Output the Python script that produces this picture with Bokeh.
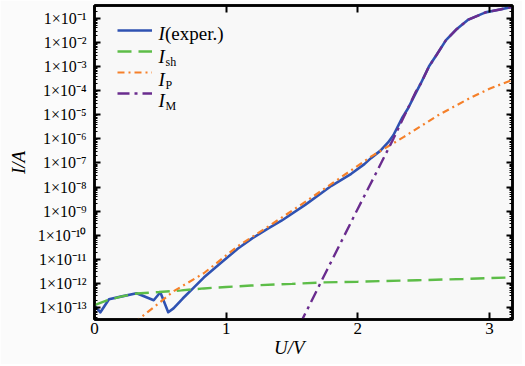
import math
from bokeh.plotting import figure
from bokeh.models import (Range1d, FixedTicker, LogAxis, LinearAxis, CustomJSTickFormatter,
                          Legend, LegendItem, Label)
from bokeh.embed import file_html
from bokeh.resources import INLINE

# ---------------- data (currents as log10(I/A)) ----------------
exp_u = [0.00, 0.045, 0.11, 0.20, 0.32, 0.45, 0.50, 0.56, 0.60, 0.67, 0.75, 0.83, 0.95, 1.09,
         1.20, 1.32, 1.42, 1.60, 1.80, 1.95, 2.05, 2.10, 2.17, 2.23, 2.27, 2.34, 2.38, 2.44,
         2.48, 2.54, 2.60, 2.67, 2.75, 2.84, 2.97, 3.08, 3.175]
exp_log_i = [-12.92, -13.20, -12.66, -12.55, -12.41, -12.70, -12.37, -13.20, -13.04, -12.63,
             -12.20, -11.76, -11.20, -10.55, -10.12, -9.72, -9.40, -8.74, -7.95, -7.45, -7.05,
             -6.80, -6.50, -6.15, -5.85, -5.10, -4.75, -4.10, -3.68, -3.00, -2.50, -1.90,
             -1.45, -1.05, -0.75, -0.63, -0.52]

sh_u = [0.00, 0.10, 0.20, 0.32, 0.49, 0.66, 0.83, 1.00, 1.19, 1.50, 1.73, 2.00, 2.45, 2.80, 3.175]
sh_log_i = [-12.90, -12.70, -12.55, -12.42, -12.36, -12.29, -12.21, -12.15, -12.09, -12.02,
            -11.96, -11.93, -11.87, -11.82, -11.75]

p_u = [0.30, 0.60, 0.83, 1.09, 1.32, 1.60, 1.85, 2.10, 2.35, 2.61, 2.86, 3.00, 3.175]
p_log_i = [-13.65, -12.33, -11.58, -10.45, -9.64, -8.62, -7.68, -6.74, -5.92, -5.02, -4.28,
           -3.92, -3.55]

m_u = [1.56, 1.77, 1.89, 2.00, 2.15, 2.27, 2.35, 2.44, 2.48, 2.54, 2.60, 2.67, 2.75, 2.84,
       2.97, 3.08, 3.175]
m_log_i = [-13.70, -11.40, -10.10, -8.90, -7.30, -6.00, -5.08, -4.05, -3.70, -3.00, -2.50,
           -1.90, -1.45, -1.05, -0.75, -0.63, -0.52]

x_ticks = [0, 1, 2, 3]
x_tick_labels = ["0", "1", "2", "3"]
y_exps = list(range(-13, 0))
y_tick_labels = ["1×10⁻¹³", "1×10⁻¹²", "1×10⁻¹¹", "1×10⁻¹⁰", "1×10⁻⁹", "1×10⁻⁸", "1×10⁻⁷",
                 "1×10⁻⁶", "1×10⁻⁵", "1×10⁻⁴", "1×10⁻³", "1×10⁻²", "1×10⁻¹"]

series_colors = {"exp": "#2f52b2", "sh": "#5dbd48", "p": "#f5802a", "m": "#6a2c8e"}

# ---------------- figure ----------------
FONT = "Liberation Serif"
X_MAX = 3.175
Y_TOP_LOG, Y_BOT_LOG = -0.464, -13.50
W, H = 522, 364
BL, BR, BT, BB = 94, 10, 5, 45
FRAME_W, FRAME_H = W - BL - BR, H - BT - BB

p = figure(width=W, height=H, y_axis_type="log",
           x_range=Range1d(0, X_MAX), y_range=Range1d(10 ** Y_BOT_LOG, 10 ** Y_TOP_LOG),
           output_backend="svg", toolbar_location=None,
           min_border_left=BL, min_border_right=BR, min_border_top=BT, min_border_bottom=BB)
p.background_fill_color = "#f8f8f8"
p.border_fill_color = "#fbfbfb"
p.xgrid.visible = False
p.ygrid.visible = False
p.outline_line_color = "black"
p.outline_line_width = 2.5

def pw(v):
    return [10 ** a for a in v]

r_exp = p.line(exp_u, pw(exp_log_i), line_color=series_colors["exp"], line_width=2.6,
               line_join="round")
r_sh = p.line(sh_u, pw(sh_log_i), line_color=series_colors["sh"], line_width=2.4,
              line_dash="14 7")
r_p = p.line(p_u, pw(p_log_i), line_color=series_colors["p"], line_width=2.2,
             line_dash="7 4 2 4")
r_m = p.line(m_u, pw(m_log_i), line_color=series_colors["m"], line_width=2.4,
             line_dash="12 5 3 5")

# ---------------- axes ----------------
y_major = [10.0 ** e for e in y_exps]
y_minor = [m * 10.0 ** e for e in range(-14, 0) for m in range(2, 10)]

x_fmt = CustomJSTickFormatter(args=dict(xvals=x_ticks, xlabs=x_tick_labels), code="""
const i = xvals.indexOf(Math.round(tick));
return i < 0 ? '' : xlabs[i];
""")
y_fmt = CustomJSTickFormatter(args=dict(yexps=y_exps, ylabs=y_tick_labels), code="""
const e = Math.round(Math.log10(tick));
const i = yexps.indexOf(e);
return i < 0 ? '' : ylabs[i];
""")
blank_fmt = CustomJSTickFormatter(code="return '';")

xa = p.xaxis[0]
xa.ticker = FixedTicker(ticks=x_ticks)
xa.formatter = x_fmt
ya = p.yaxis[0]
ya.ticker = FixedTicker(ticks=y_major, minor_ticks=y_minor)
ya.formatter = y_fmt

for ax in (xa, ya):
    ax.axis_line_width = 2.5
    ax.axis_line_color = "black"
    ax.major_tick_out = 0
    ax.minor_tick_out = 0
    ax.major_tick_line_width = 2
    ax.minor_tick_line_width = 1.2
    ax.major_label_text_font = FONT
    ax.major_label_text_font_size = "16px"
    ax.major_label_text_color = "black"
    ax.axis_label_text_font = FONT
    ax.axis_label_text_font_size = "19px"
    ax.axis_label_text_font_style = "italic"
    ax.axis_label_text_color = "black"
xa.major_label_text_font_size = "17px"
xa.major_tick_in = 7
xa.minor_tick_in = 0
xa.major_label_standoff = 3
xa.axis_label = "U/V\u2003\u2002"
xa.axis_label_standoff = 0
ya.major_tick_in = 6
ya.minor_tick_in = 3
ya.major_label_standoff = 8
ya.axis_label = "I/A"
ya.axis_label_standoff = 6

top_ax = LinearAxis(ticker=FixedTicker(ticks=x_ticks), formatter=blank_fmt,
                    major_label_standoff=0, major_tick_in=7, major_tick_out=0,
                    minor_tick_in=0, minor_tick_out=0, axis_line_width=2.5,
                    major_tick_line_width=2)
right_ax = LogAxis(ticker=FixedTicker(ticks=y_major, minor_ticks=y_minor),
                   formatter=blank_fmt, major_label_standoff=0,
                   major_tick_in=6, major_tick_out=0, minor_tick_in=3, minor_tick_out=0,
                   axis_line_width=2.5, major_tick_line_width=2, minor_tick_line_width=1.2)
p.add_layout(top_ax, "above")
p.add_layout(right_ax, "right")

# ---------------- legend (samples; texts are drawn as labels) ----------------
PAD = 5
legend = Legend(items=[LegendItem(label=" ", renderers=[r]) for r in (r_exp, r_sh, r_p, r_m)],
                location=(28 - PAD, 216), padding=PAD, margin=0, spacing=1,
                glyph_width=35, glyph_height=20, label_height=20, label_width=70,
                label_standoff=0, label_text_font=FONT, label_text_font_size="10px",
                background_fill_alpha=0.0, border_line_color=None)
p.add_layout(legend)

# ---------------- legend texts (canvas px -> data coords helpers) ----------------
def u_at(px):
    return (px - BL) * X_MAX / FRAME_W

def i_at(py):
    return 10 ** (Y_TOP_LOG - (py - BT) * (Y_TOP_LOG - Y_BOT_LOG) / FRAME_H)

def lab(text, px, py, size, italic=False):
    p.add_layout(Label(x=u_at(px), y=i_at(py), text=text, text_font=FONT,
                       text_font_size=size, text_font_style="italic" if italic else "normal",
                       text_align="left", text_baseline="alphabetic",
                       text_color="black", level="overlay"))

lab("I", 158, 33, "19px", italic=True)
lab("(exper.)", 164.5, 33, "19px")
for base, sub in ((56, "sh"), (79, "P"), (100, "M")):
    lab("I", 158, base, "19px", italic=True)
    lab(sub, 165, base + 5, "12px")

open("out.html", "w").write(file_html(p, INLINE))
